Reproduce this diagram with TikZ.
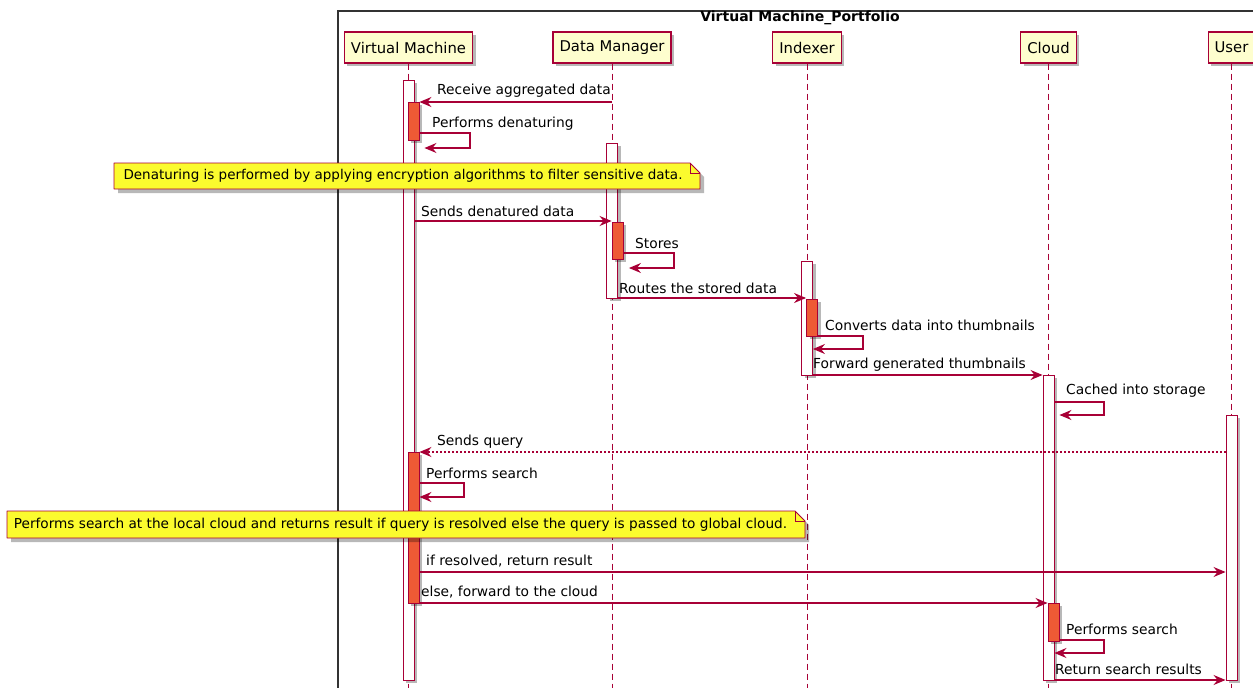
\documentclass[tikz,border=0pt]{standalone}
\usepackage{fontspec}
\setmainfont{DejaVu Sans}
\usetikzlibrary{arrows.meta,calc}
\definecolor{pborder}{HTML}{A80036}
\definecolor{pfill}{HTML}{FEFECE}
\definecolor{actfill}{HTML}{EE5A35}
\definecolor{notefill}{HTML}{FBFB2E}
\definecolor{framecol}{HTML}{333333}
\tikzset{
  x=1pt, y=-1pt,
  shadowed/.style={preaction={fill=black, opacity=0.28, transform canvas={shift={(3pt,-3pt)}}}},
  part/.style={shadowed, draw=pborder, line width=1.2pt, fill=pfill, minimum height=31pt,
    inner xsep=6.5pt, font=\fontsize{14.8}{16}\selectfont, text=black},
  life/.style={draw=pborder, line width=0.9pt, dash pattern=on 6pt off 4pt},
  actw/.style={shadowed, draw=pborder, line width=0.9pt, fill=white, minimum width=11pt, inner sep=0pt},
  acto/.style={shadowed, draw=pborder, line width=0.9pt, fill=actfill, minimum width=11pt, inner sep=0pt},
  msg/.style={draw=pborder, line width=1.1pt, -{Stealth[length=12pt,width=10pt,inset=4pt]}},
  reply/.style={msg, dash pattern=on 2pt off 2pt},
  lbl/.style={anchor=west, inner sep=0pt, font=\fontsize{13.8}{15}\selectfont, text=black},
  notebg/.style={draw=pborder, line width=0.9pt, fill=notefill, line join=round},
  notetxt/.style={inner sep=0pt, font=\fontsize{13.5}{15}\selectfont, text=black},
}
\begin{document}
\begin{tikzpicture}
\useasboundingbox (0,0) rectangle (1253,688);
\clip (0,0) rectangle (1253,688);

% enclosing frame and its title
\draw[framecol, line width=1.1pt] (338,11) rectangle (1264,700);
\node[font=\bfseries\fontsize{14}{15}\selectfont, inner sep=0pt] (title) at (800,18) {Virtual Machine\_Portfolio};

% participants
\node[part] (vm) at (408.5,47.5) {Virtual Machine};
\node[part] (dm) at (612,47.5) {Data Manager};
\node[part] (ix) at (807,47.5) {Indexer};
\node[part] (cl) at (1048.5,47.5) {Cloud};
\node[part] (us) at (1231.5,47.5) {User};

% lifelines
\foreach \p in {vm,dm,ix,cl,us}
  \draw[life] (\p.south) -- (\p.south |- 0,700);

% activation bars
\node[actw, minimum height=600pt] (vmA) at (408.5,380) {};
\node[acto, minimum height=38pt]  (vmB) at (413.5,121) {};
\node[actw, minimum height=155pt] (dmA) at (612,220.5) {};
\node[acto, minimum height=37pt]  (dmB) at (617.5,240.5) {};
\node[actw, minimum height=114pt] (ixA) at (807,318) {};
\node[acto, minimum height=37pt]  (ixB) at (812,317.5) {};
\node[actw, minimum height=305pt] (clA) at (1048.5,527.5) {};
\node[acto, minimum height=38pt]  (clB) at (1053.5,622) {};
\node[actw, minimum height=265pt] (usA) at (1231.5,547.5) {};
\node[acto, minimum height=151pt] (vmC) at (413.5,527.5) {};

% messages
\draw[msg] (dm |- 0,102) -- (vmB.east |- 0,102);
\node[lbl] (m1) at (437,91) {Receive aggregated data};

\draw[msg] (vmB.east |- 0,133) -- (470,133) -- (470,148) -- ($(vmA.east |- 0,148)+(10,0)$);
\node[lbl] (m2) at (432,124) {Performs denaturing};

\draw[msg] (vmA.east |- 0,221) -- (dmB.west |- 0,221);
\node[lbl] (m3) at (421,211) {Sends denatured data};

\draw[msg] (dmB.east |- 0,253) -- (674,253) -- (674,268) -- ($(dmA.east |- 0,268)+(11,0)$);
\node[lbl] (m4) at (635,243) {Stores};

\draw[msg] (dmA.east |- 0,298) -- (ixB.west |- 0,298);
\node[lbl] (m5) at (619,288) {Routes the stored data};

\draw[msg] (ixB.east |- 0,336) -- (863,336) -- (863,349) -- (ixA.east |- 0,349);
\node[lbl] (m6) at (825,325) {Converts data into thumbnails};

\draw[msg] (ixA.east |- 0,375) -- (clA.west |- 0,375);
\node[lbl] (m7) at (813,365) {Forward generated thumbnails};

\draw[msg] (clA.east |- 0,402) -- (1104,402) -- (1104,415) -- ($(clA.east |- 0,415)+(5,0)$);
\node[lbl] (m8) at (1066,391) {Cached into storage};

\draw[reply] (usA.west |- 0,452) -- (vmC.east |- 0,452);
\node[lbl] (m9) at (437,442) {Sends query};

\draw[msg] (vmC.east |- 0,483) -- (464,483) -- (464,497) -- (vmC.east |- 0,497);
\node[lbl] (m10) at (426,473) {Performs search};

\draw[msg] (vmC.east |- 0,572) -- (usA.west |- 0,572);
\node[lbl] (m11) at (426,561) {if resolved, return result};

\draw[msg] (vmC.east |- 0,603) -- (clB.west |- 0,603);
\node[lbl] (m12) at (421,592) {else, forward to the cloud};

\draw[msg] (clB.east |- 0,640) -- (1104,640) -- (1104,653) -- (clA.east |- 0,653);
\node[lbl] (m13) at (1066,629) {Performs search};

\draw[msg] (clA.east |- 0,680) -- (usA.west |- 0,680);
\node[lbl] (m14) at (1055,669) {Return search results};

% notes with folded corner
\fill[black, opacity=0.28] (118,167) -- (694,167) -- (704,177) -- (704,193) -- (118,193) -- cycle;
\path[notebg] (114,163) -- (690,163) -- (700,173) -- (700,189) -- (114,189) -- cycle;
\draw[pborder, line width=0.8pt] (690,163) -- (690,173) -- (700,173);
\node[notetxt] (n1) at (403,176) {Denaturing is performed by applying encryption algorithms to filter sensitive data.};

\fill[black, opacity=0.28] (11,515) -- (799,515) -- (809,525) -- (809,542) -- (11,542) -- cycle;
\path[notebg] (7,511) -- (795,511) -- (805,521) -- (805,538) -- (7,538) -- cycle;
\draw[pborder, line width=0.8pt] (795,511) -- (795,521) -- (805,521);
\node[notetxt, font=\fontsize{13.65}{15}\selectfont] (n2) at (400.5,524.5) {Performs search at the local cloud and returns result if query is resolved else the query is passed to global cloud.};
\end{tikzpicture}
\end{document}
